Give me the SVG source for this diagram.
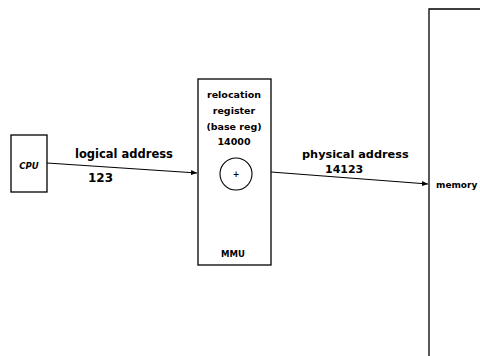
<svg xmlns="http://www.w3.org/2000/svg" width="480" height="356" viewBox="0 0 480 356">
<defs>
<style>
.box{fill:#fff;stroke:#000;stroke-width:1.3}
.t{font-family:"DejaVu Sans",sans-serif;font-weight:bold;fill:#000}
.ln{stroke:#000;stroke-width:1.2;fill:none}
</style>
<marker id="ah" markerWidth="6" markerHeight="6" refX="6" refY="3" orient="auto" markerUnits="userSpaceOnUse">
<path d="M0,0.5 L6,3 L0,5.5 Z" fill="#000"/>
</marker>
</defs>
<rect width="480" height="356" fill="#fff"/>
<g id="memory">
<path class="box" d="M482,9 H429 V358"/>
<text class="t" x="436" y="188" font-size="9">memory</text>
</g>
<g id="cpu">
<rect class="box" x="11" y="135" width="36" height="57"/>
<text class="t" x="29" y="169" font-size="8.5" text-anchor="middle" font-style="italic">CPU</text>
</g>
<g id="mmu">
<rect class="box" x="198" y="79" width="73" height="186"/>
<text class="t" x="234" y="98" font-size="9.5" text-anchor="middle">relocation</text>
<text class="t" x="234" y="114" font-size="9.5" text-anchor="middle">register</text>
<text class="t" x="234" y="130" font-size="9.5" text-anchor="middle">(base reg)</text>
<text class="t" x="234" y="145" font-size="9.5" text-anchor="middle">14000</text>
<circle cx="236" cy="174" r="16" fill="#fff" stroke="#000" stroke-width="1.1"/>
<text class="t" x="236" y="177" font-size="8" text-anchor="middle">+</text>
<text class="t" x="233" y="257" font-size="8.5" text-anchor="middle">MMU</text>
</g>
<g id="connectors">
<line class="ln" x1="47" y1="163" x2="197" y2="173" marker-end="url(#ah)"/>
<line class="ln" x1="271" y1="172" x2="428" y2="184" marker-end="url(#ah)"/>
</g>
<g id="labels">
<text class="t" x="75" y="158" font-size="11.5">logical address</text>
<text class="t" x="88" y="182" font-size="12">123</text>
<text class="t" x="302" y="158" font-size="11.3">physical address</text>
<text class="t" x="325" y="173" font-size="11">14123</text>
</g>
</svg>
